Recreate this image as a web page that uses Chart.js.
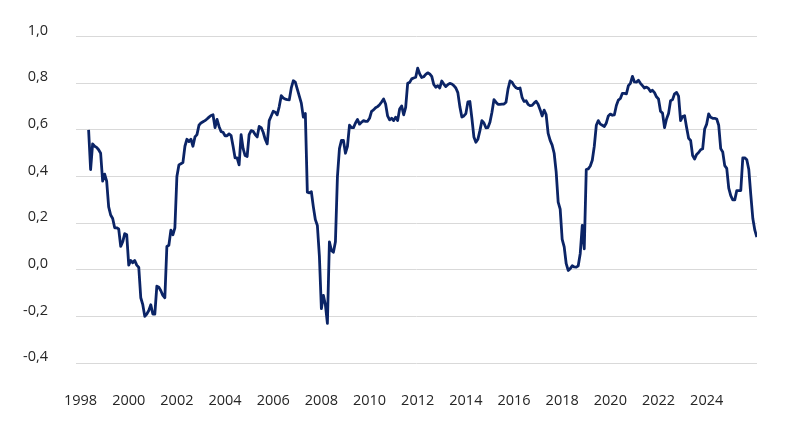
<!DOCTYPE html>
<html>
<head>
  <meta charset="UTF-8">
  <title>Chart</title>
  <style>
    body {
      margin: 0;
      padding: 0;
      overflow: hidden;
      background: #ffffff;
    }

    #chart-container {
      width: 796px;
      height: 432px;
    }
  </style>
  <script src="https://cdn.jsdelivr.net/npm/chart.js"></script>
</head>
<body>
  <div id="chart-container">
    <canvas id="chart"></canvas>
  </div>

  <script>
    // monthly series, first value = May 1998
    var startYear = 1998;
    var startMonth = 4;
    var values = [
      0.60, 0.43, 0.54, 0.53, 0.525, 0.515, 0.50, 0.38,
      0.41, 0.38, 0.27, 0.235, 0.22, 0.18, 0.18, 0.175, 0.10, 0.12, 0.155, 0.15,
      0.02, 0.04, 0.03, 0.04, 0.02, 0.01, -0.12, -0.15, -0.20, -0.19, -0.175, -0.15,
      -0.19, -0.19, -0.07, -0.075, -0.09, -0.11, -0.12, 0.10, 0.105, 0.17, 0.15, 0.18,
      0.40, 0.45, 0.455, 0.46, 0.53, 0.56, 0.55, 0.56, 0.53, 0.57, 0.58, 0.62,
      0.63, 0.635, 0.64, 0.647, 0.655, 0.662, 0.665, 0.61, 0.645, 0.615, 0.593, 0.59,
      0.575, 0.575, 0.583, 0.576, 0.53, 0.48, 0.48, 0.45, 0.58, 0.52, 0.49, 0.486,
      0.58, 0.597, 0.594, 0.58, 0.57, 0.615, 0.61, 0.59, 0.56, 0.54, 0.64, 0.66,
      0.68, 0.676, 0.665, 0.70, 0.747, 0.737, 0.732, 0.73, 0.729, 0.78, 0.811, 0.805,
      0.775, 0.745, 0.715, 0.655, 0.671, 0.333, 0.33, 0.335, 0.27, 0.215, 0.19, 0.06,
      -0.167, -0.11, -0.15, -0.23, 0.12, 0.083, 0.075, 0.12, 0.40, 0.52, 0.555, 0.555,
      0.50, 0.53, 0.62, 0.61, 0.61, 0.63, 0.645, 0.625, 0.633, 0.64, 0.637, 0.637,
      0.65, 0.68, 0.686, 0.695, 0.70, 0.708, 0.72, 0.733, 0.711, 0.66, 0.643, 0.65,
      0.64, 0.655, 0.64, 0.69, 0.703, 0.665, 0.697, 0.80, 0.804, 0.819, 0.823, 0.826,
      0.865, 0.84, 0.825, 0.828, 0.838, 0.845, 0.84, 0.83, 0.795, 0.783, 0.79, 0.78,
      0.81, 0.797, 0.786, 0.794, 0.80, 0.797, 0.79, 0.78, 0.76, 0.70, 0.655, 0.66,
      0.67, 0.72, 0.722, 0.65, 0.57, 0.547, 0.56, 0.597, 0.64, 0.63, 0.609, 0.61,
      0.633, 0.676, 0.73, 0.719, 0.71, 0.71, 0.711, 0.711, 0.719, 0.775, 0.81, 0.805,
      0.79, 0.781, 0.777, 0.78, 0.74, 0.722, 0.725, 0.71, 0.704, 0.705, 0.715, 0.723,
      0.71, 0.687, 0.66, 0.685, 0.666, 0.585, 0.555, 0.535, 0.50, 0.42, 0.29, 0.26,
      0.13, 0.098, 0.026, -0.003, 0.005, 0.017, 0.012, 0.011, 0.017, 0.07, 0.19, 0.09,
      0.43, 0.433, 0.445, 0.47, 0.53, 0.62, 0.64, 0.625, 0.62, 0.615, 0.63, 0.66,
      0.668, 0.663, 0.665, 0.705, 0.728, 0.735, 0.757, 0.757, 0.755, 0.79, 0.80, 0.83,
      0.806, 0.805, 0.813, 0.80, 0.79, 0.78, 0.784, 0.778, 0.765, 0.77, 0.76, 0.742,
      0.733, 0.68, 0.672, 0.61, 0.647, 0.67, 0.725, 0.73, 0.755, 0.761, 0.745, 0.64,
      0.657, 0.661, 0.61, 0.564, 0.555, 0.49, 0.475, 0.495, 0.503, 0.515, 0.519, 0.604,
      0.625, 0.669, 0.654, 0.65, 0.65, 0.647, 0.62, 0.52, 0.505, 0.447, 0.435, 0.35,
      0.318, 0.30, 0.30, 0.34, 0.34, 0.34, 0.48, 0.48, 0.472, 0.43, 0.32, 0.22,
      0.17, 0.14
    ];
    var xTicks = [1998, 2000, 2002, 2004, 2006, 2008, 2010, 2012, 2014, 2016, 2018, 2020, 2022, 2024];
    var yTicks = [-0.4, -0.2, 0.0, 0.2, 0.4, 0.6, 0.8, 1.0];

    var points = [];
    for (var i = 0; i < values.length; i++) {
      points.push({ x: startYear + (startMonth + i) / 12, y: values[i] });
    }

    var tickFont = { family: '"Open Sans", sans-serif', size: 14.5 };
    var tickColor = '#262626';

    var ctx = document.getElementById('chart').getContext('2d');
    var chart = new Chart(ctx, {
      type: 'line',
      data: {
        datasets: [{
          data: points,
          borderColor: '#0b2466',
          borderWidth: 2.8,
          pointRadius: 0,
          tension: 0,
          fill: false,
          borderJoinStyle: 'round'
        }]
      },
      options: {
        responsive: true,
        maintainAspectRatio: false,
        animation: false,
        layout: {
          padding: { left: 0, right: 39, top: 36, bottom: 0 }
        },
        plugins: {
          legend: { display: false },
          tooltip: { enabled: false }
        },
        scales: {
          x: {
            type: 'linear',
            min: 1997.81,
            max: 2026.09,
            grid: { display: false, drawTicks: false },
            border: { display: false },
            afterBuildTicks: function (scale) {
              scale.ticks = xTicks.map(function (v) { return { value: v }; });
            },
            afterFit: function (scale) {
              scale.height = 69;
            },
            ticks: {
              font: tickFont,
              color: tickColor,
              padding: 29,
              maxRotation: 0,
              autoSkip: false,
              callback: function (v) { return String(v); }
            }
          },
          y: {
            min: -0.4,
            max: 1.0,
            grid: { color: '#d9d9d9', lineWidth: 1, drawTicks: false },
            border: { display: false },
            afterBuildTicks: function (scale) {
              scale.ticks = yTicks.map(function (v) { return { value: v }; });
            },
            afterFit: function (scale) {
              scale.width = 76;
            },
            ticks: {
              font: tickFont,
              color: tickColor,
              padding: 28,
              labelOffset: -6,
              callback: function (v) { return v.toFixed(1).replace('.', ','); }
            }
          }
        }
      }
    });
  </script>
</body>
</html>
